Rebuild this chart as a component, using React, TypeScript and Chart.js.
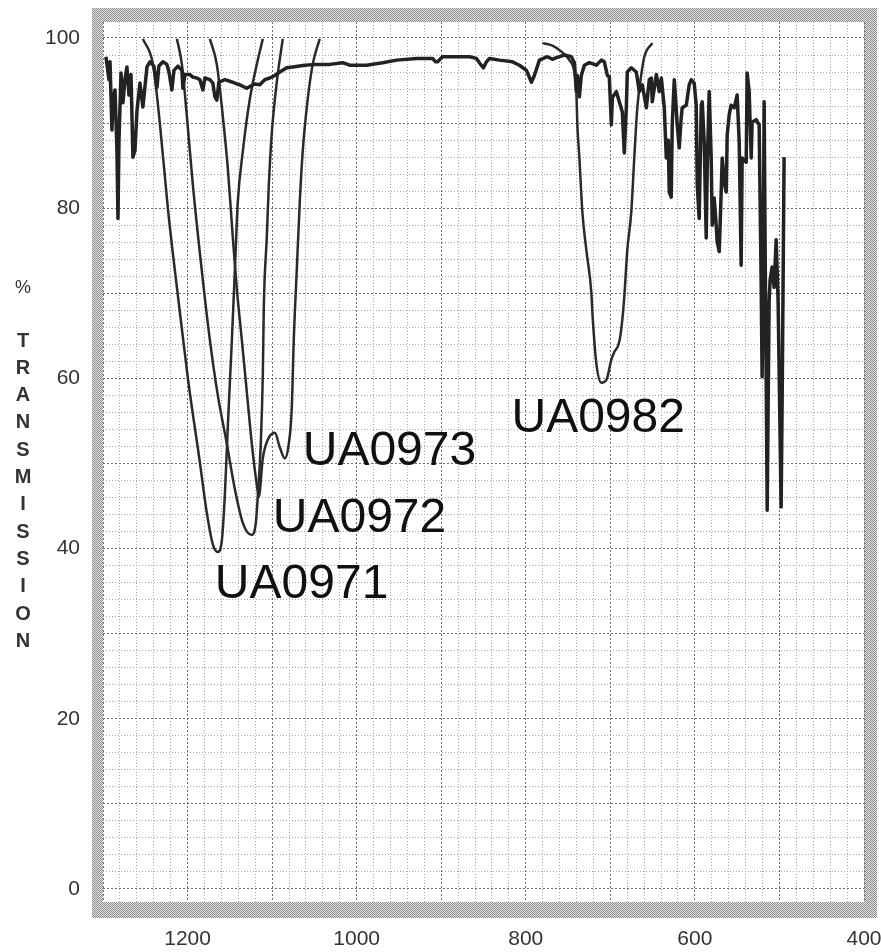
import React, { useEffect, useRef } from 'react';
import { Chart, registerables } from 'chart.js';

Chart.register(...registerables);

// ---- axis ticks / titles ----
const xTickLabels = [1200, 1000, 800, 600, 400];
const yTickLabels = [0, 20, 40, 60, 80, 100];
const yTitleChars = ['%', 'T', 'R', 'A', 'N', 'S', 'M', 'I', 'S', 'S', 'I', 'O', 'N'];

// ---- background spectrum (wavenumber, %T) ----
const specX = [
  1296.5, 1292.9, 1291.7, 1289.4, 1288.2, 1285.8, 1283.5, 1282.3, 1281.1, 1278.7,
  1276.4, 1274.0, 1271.7, 1269.3, 1266.9, 1264.6, 1262.2, 1259.8, 1256.3, 1252.8,
  1248.0, 1244.5, 1239.8, 1236.2, 1233.9, 1229.1, 1224.4, 1222.0, 1218.5, 1216.1,
  1211.4, 1206.7, 1205.5, 1203.1, 1197.2, 1193.7, 1189.0, 1185.4, 1181.9, 1179.5,
  1173.6, 1170.1, 1167.7, 1165.4, 1163.0, 1155.9, 1146.5, 1141.7, 1138.2, 1129.9,
  1126.4, 1120.5, 1114.6, 1108.7, 1102.7, 1096.8, 1090.9, 1082.7, 1075.6, 1061.4,
  1047.2, 1031.9, 1016.5, 1008.3, 988.2, 969.3, 952.8, 929.1, 910.2, 906.7,
  904.3, 898.4, 881.9, 866.5, 858.3, 853.5, 850.0, 846.5, 842.9, 831.1,
  815.7, 807.5, 799.2, 793.3, 789.8, 783.9, 774.4, 768.5, 763.8, 754.3,
  746.1, 742.5, 740.2, 739.0, 736.6, 734.3, 730.7, 724.8, 716.6, 710.6,
  707.1, 703.5, 701.2, 698.8, 697.6, 692.9, 689.4, 685.8, 683.5, 681.1,
  679.9, 675.2, 669.3, 665.7, 662.2, 657.4, 653.9, 651.5, 650.4, 645.6,
  642.1, 639.7, 636.2, 633.8, 631.5, 630.3, 628.0, 626.8, 624.4, 622.1,
  620.9, 618.5, 616.2, 615.0, 610.2, 606.7, 604.3, 600.8, 598.4, 597.2,
  594.9, 592.5, 591.3, 589.0, 586.6, 585.4, 583.1, 580.7, 579.5, 577.2,
  574.8, 573.6, 571.2, 568.9, 567.7, 565.4, 563.0, 561.8, 559.4, 557.1,
  553.5, 550.0, 547.6, 545.3, 544.1, 539.3, 538.2, 535.8, 533.4, 532.3,
  527.5, 524.0, 521.6, 520.5, 519.3, 518.1, 516.9, 515.7, 514.5, 512.2,
  511.0, 508.7, 506.3, 503.9, 501.6, 498.0, 496.8, 494.5,
];
const specY = [
  97.8, 95.1, 97.2, 89.2, 92.7, 93.9, 86.8, 78.8, 88.0, 95.9,
  92.4, 95.1, 96.6, 93.3, 95.7, 86.0, 86.8, 91.5, 94.7, 91.9,
  96.6, 97.2, 96.7, 94.2, 96.7, 97.2, 96.9, 96.0, 93.9, 96.2,
  96.7, 96.2, 94.1, 95.7, 95.7, 95.4, 95.3, 95.1, 93.9, 95.3,
  95.1, 94.7, 93.1, 92.7, 94.8, 95.1, 94.8, 94.6, 94.5, 94.1,
  94.3, 94.6, 94.5, 95.1, 95.3, 95.6, 96.0, 96.5, 96.6, 96.8,
  96.9, 96.9, 97.1, 96.8, 96.8, 97.1, 97.4, 97.6, 97.6, 97.2,
  97.2, 97.8, 97.8, 97.8, 97.6, 96.9, 96.5, 97.2, 97.6, 97.4,
  97.2, 96.8, 96.2, 94.8, 95.6, 97.4, 97.8, 97.5, 97.7, 98.0,
  97.8, 97.1, 93.7, 95.6, 93.1, 95.6, 96.8, 97.1, 96.8, 97.4,
  97.2, 95.6, 95.4, 89.8, 93.0, 93.7, 92.5, 91.3, 86.5, 91.8,
  96.0, 96.5, 96.0, 93.7, 94.5, 91.8, 95.1, 95.3, 92.5, 95.7,
  93.7, 95.3, 91.8, 85.9, 88.0, 81.9, 81.3, 89.8, 95.1, 91.8,
  89.8, 87.1, 90.6, 91.8, 92.1, 94.5, 95.1, 94.7, 92.1, 82.7,
  78.8, 92.1, 92.5, 87.8, 76.5, 84.7, 93.7, 85.9, 78.0, 81.2,
  78.0, 76.0, 74.9, 81.9, 85.9, 83.1, 81.9, 88.6, 91.0, 92.1,
  91.8, 93.3, 87.8, 73.3, 85.9, 85.4, 95.9, 93.7, 85.9, 90.1,
  90.4, 89.8, 71.0, 60.2, 70.4, 92.5, 75.1, 60.2, 44.5, 69.2,
  71.6, 73.1, 70.7, 76.3, 69.2, 44.9, 57.5, 86.0,
];

// ---- reference bands ----
const ua0971X = [1252.8, 1240.9, 1232.6, 1223.2, 1211.4, 1199.6, 1185.4, 1177.2, 1170.1, 1164.2, 1159.4, 1155.9, 1152.4, 1147.6, 1144.1, 1140.6, 1134.6, 1126.4, 1118.1, 1111.0];
const ua0971Y = [99.9, 96.9, 89.8, 79.9, 69.7, 60.0, 50.1, 44.2, 40.5, 39.6, 41.0, 46.3, 54.3, 64.5, 72.6, 80.7, 86.7, 92.8, 96.9, 99.9];

const ua0972X = [1212.6, 1206.7, 1200.8, 1193.7, 1183.1, 1173.6, 1164.2, 1153.5, 1144.1, 1134.6, 1124.0, 1119.3, 1116.9, 1113.4, 1111.0, 1109.8, 1106.3, 1103.9, 1100.4, 1094.5, 1087.4];
const ua0972Y = [99.9, 96.9, 90.8, 82.7, 72.6, 64.5, 58.0, 52.3, 47.0, 43.0, 41.6, 43.0, 46.2, 52.3, 60.4, 68.5, 76.6, 82.7, 88.8, 94.8, 99.9];

const ua0973X = [1173.6, 1165.4, 1158.3, 1152.4, 1146.5, 1141.7, 1135.8, 1129.9, 1124.0, 1118.1, 1115.7, 1111.0, 1105.1, 1096.8, 1090.9, 1085.0, 1080.3, 1076.8, 1074.4, 1070.9, 1067.3, 1063.8, 1057.9, 1052.0, 1043.7];
const ua0973Y = [99.9, 96.9, 90.8, 84.7, 76.6, 70.5, 64.5, 58.4, 52.3, 47.5, 46.1, 50.6, 52.8, 53.6, 51.9, 50.6, 52.3, 56.4, 64.5, 72.6, 80.7, 86.7, 92.8, 96.9, 99.9];

const ua0982X = [780.3, 768.5, 757.9, 748.4, 742.5, 740.2, 739.0, 736.6, 733.1, 728.4, 722.4, 721.2, 716.6, 710.6, 704.7, 698.8, 695.3, 689.4, 685.8, 683.5, 679.9, 675.2, 671.7, 668.1, 663.4, 659.8, 650.4];
const ua0982Y = [99.4, 99.1, 98.4, 97.4, 96.0, 93.7, 89.8, 85.9, 79.6, 75.1, 70.0, 67.7, 61.8, 59.5, 59.8, 62.2, 63.1, 64.3, 66.9, 69.6, 75.1, 79.6, 85.9, 91.8, 95.7, 97.8, 99.4];

// ---- band name annotations (anchor: left / baseline, data coords) ----
const bandNames = ['UA0971', 'UA0972', 'UA0973', 'UA0982'];
const bandNameX = [1167.7, 1099.2, 1063.8, 816.9];
const bandNameY = [34.2, 41.95, 49.8, 53.7];

const FONT = "'Liberation Sans', Arial, Helvetica, sans-serif";

const pts = (xs: number[], ys: number[]) => xs.map((x, i) => ({ x, y: ys[i] }));

const noOverflow = (s: any) => {
  s.paddingTop = 0;
  s.paddingBottom = 0;
  s.paddingLeft = 0;
  s.paddingRight = 0;
};

export default function App() {
  const ref = useRef<HTMLCanvasElement | null>(null);

  useEffect(() => {
    if (!ref.current) return;

    const framePlugin = {
      id: 'frame',
      beforeDraw(chart: any) {
        const { ctx, chartArea: a, width, height } = chart;
        ctx.save();
        ctx.fillStyle = '#ffffff';
        ctx.fillRect(0, 0, width, height);
        const pc = document.createElement('canvas');
        pc.width = 2;
        pc.height = 2;
        const p = pc.getContext('2d')!;
        p.fillStyle = '#e4e4e4';
        p.fillRect(0, 0, 2, 2);
        p.fillStyle = '#8c8c8c';
        p.fillRect(0, 0, 1, 1);
        p.fillRect(1, 1, 1, 1);
        ctx.fillStyle = ctx.createPattern(pc, 'repeat');
        ctx.fillRect(a.left - 11, a.top - 14, a.width + 11 + 13, a.height + 14 + 16);
        ctx.fillStyle = '#ffffff';
        ctx.fillRect(a.left, a.top, a.width, a.height);
        ctx.restore();
      },
    };

    const textPlugin = {
      id: 'texts',
      afterDraw(chart: any) {
        const { ctx } = chart;
        const xs = chart.scales.x;
        const ys = chart.scales.y;
        ctx.save();
        // y-axis title, stacked characters
        ctx.fillStyle = '#333';
        ctx.textAlign = 'center';
        ctx.textBaseline = 'middle';
        yTitleChars.forEach((c, i) => {
          if (i === 0) {
            ctx.font = `18px ${FONT}`;
            ctx.fillText(c, 23, 288);
          } else {
            ctx.font = `bold 20px ${FONT}`;
            ctx.fillText(c, 23, 341 + (i - 1) * 27.3);
          }
        });
        // band names
        ctx.fillStyle = '#111';
        ctx.font = `48px ${FONT}`;
        ctx.textAlign = 'left';
        ctx.textBaseline = 'alphabetic';
        bandNames.forEach((t, i) => {
          ctx.fillText(t, xs.getPixelForValue(bandNameX[i]), ys.getPixelForValue(bandNameY[i]));
        });
        ctx.restore();
      },
    };

    const bandStyle = {
      borderColor: '#2a2a2a',
      borderWidth: 2.5,
      pointRadius: 0,
      cubicInterpolationMode: 'monotone' as const,
      fill: false,
    };

    const chart = new Chart(ref.current, {
      type: 'line',
      data: {
        datasets: [
          {
            label: 'spectrum',
            data: pts(specX, specY),
            borderColor: '#222',
            borderWidth: 3.5,
            pointRadius: 0,
            tension: 0,
            borderJoinStyle: 'round',
            fill: false,
          },
          { label: 'UA0971', data: pts(ua0971X, ua0971Y), ...bandStyle },
          { label: 'UA0972', data: pts(ua0972X, ua0972Y), ...bandStyle },
          { label: 'UA0973', data: pts(ua0973X, ua0973Y), ...bandStyle },
          { label: 'UA0982', data: pts(ua0982X, ua0982Y), ...bandStyle },
        ] as any,
      },
      options: {
        responsive: false,
        animation: false,
        devicePixelRatio: 1,
        layout: { padding: { left: 0, top: 22, right: 17, bottom: 0 } },
        plugins: { legend: { display: false }, tooltip: { enabled: false } },
        scales: {
          x: {
            type: 'linear',
            reverse: true,
            min: 400,
            max: 1300,
            afterFit: (s: any) => {
              s.height = 50;
              noOverflow(s);
            },
            ticks: {
              stepSize: 20,
              autoSkip: false,
              maxRotation: 0,
              includeBounds: false,
              padding: 25,
              color: '#333',
              font: { family: FONT, size: 21 },
              callback: (v: any) => (xTickLabels.includes(Math.round(Number(v))) ? String(Math.round(Number(v))) : ''),
            },
            grid: {
              drawTicks: false,
              lineWidth: 1,
              color: (c: any) => (c.tick && Math.round(c.tick.value) % 100 === 0 ? '#6e6e6e' : '#a8a8a8'),
            },
            border: {
              display: false,
              dash: (c: any) => (c.tick && Math.round(c.tick.value) % 100 === 0 ? [2, 2] : [1, 2]),
            },
          },
          y: {
            type: 'linear',
            min: -1.53,
            max: 101.88,
            afterFit: (s: any) => {
              s.width = 103;
              noOverflow(s);
            },
            ticks: {
              stepSize: 2,
              autoSkip: false,
              includeBounds: false,
              padding: 23,
              color: '#333',
              font: { family: FONT, size: 21 },
              callback: (v: any) => (yTickLabels.includes(Math.round(Number(v))) && Math.abs(Number(v) - Math.round(Number(v))) < 1e-6 ? String(Math.round(Number(v))) : ''),
            },
            grid: {
              drawTicks: false,
              lineWidth: 1,
              color: (c: any) => (c.tick && Math.round(c.tick.value) % 10 === 0 ? '#6e6e6e' : '#a8a8a8'),
            },
            border: {
              display: false,
              dash: (c: any) => (c.tick && Math.round(c.tick.value) % 10 === 0 ? [2, 2] : [1, 2]),
            },
          },
        },
      } as any,
      plugins: [framePlugin, textPlugin],
    });

    return () => chart.destroy();
  }, []);

  return (
    <div style={{ position: 'fixed', left: 0, top: 0, width: 881, height: 952, background: '#fff' }}>
      <canvas ref={ref} width={881} height={952} style={{ display: 'block', width: 881, height: 952 }} />
    </div>
  );
}
